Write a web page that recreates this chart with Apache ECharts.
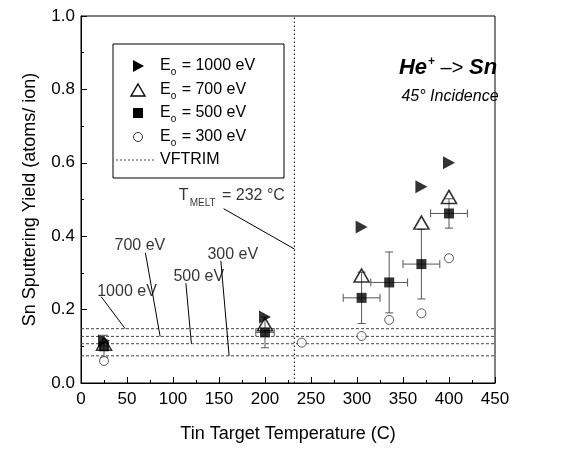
<!DOCTYPE html>
<html><head><meta charset="utf-8">
<script src="https://cdn.jsdelivr.net/npm/echarts@6/dist/echarts.min.js"></script>
<style>html,body{margin:0;padding:0;background:#fff}#c{width:569px;height:450px}</style>
</head><body><div id="c"></div>
<script>
// ---- data ----
const temps1000 = [25, 200, 305, 370, 400];
const yield1000 = [0.115, 0.18, 0.425, 0.535, 0.60];
const temps700 = [25, 200, 305, 370, 400];
const yield700 = [0.107, 0.16, 0.293, 0.437, 0.507];
const temps500 = [25, 200, 305, 335, 370, 400];
const yield500 = [0.10, 0.138, 0.232, 0.274, 0.324, 0.462];
const errT500 = [4, 10, 20, 20, 20, 20];
const errY500 = [0.03, 0.042, 0.07, 0.083, 0.095, 0.04];
const temps300 = [25, 240, 305, 335, 370, 400];
const yield300 = [0.06, 0.11, 0.128, 0.172, 0.19, 0.34];
const vftrimEnergies = ['1000 eV', '700 eV', '500 eV', '300 eV'];
const vftrimYield = [0.148, 0.127, 0.107, 0.074];
const meltTemp = 232;
const meltLabel = 'T_MELT = 232 °C';

// ---- annotation layout (data coordinates) ----
const energyLabelAt = [[50, 0.25], [64, 0.375], [128, 0.29], [165, 0.35]];
const energyArrowFrom = [[22, 0.235], [70, 0.355], [114, 0.272], [152, 0.333]];
const energyArrowToT = [48, 86, 120, 161];
const meltLabelAt = [164, 0.51];
const meltArrowFrom = [155, 0.475];
const meltArrowToY = 0.365;

const chart = echarts.init(document.getElementById('c'), null, {renderer: 'canvas'});
const FONT = 'Liberation Sans, Arial, sans-serif';

const series = [];
// VFTRIM lines
vftrimYield.forEach((v, i) => {
  series.push({
    type: 'line', name: 'VFTRIM ' + vftrimEnergies[i], data: [[0, v], [450, v]],
    symbol: 'none', silent: true, z: 1,
    lineStyle: {color: '#444', width: 1, type: [3, 2]}
  });
});
// melt line
series.push({
  type: 'line', data: [[meltTemp, 0], [meltTemp, 1]], symbol: 'none', silent: true, z: 1,
  lineStyle: {color: '#222', width: 1.2, type: [1.5, 2.5]}
});
// error bars
series.push({
  type: 'custom', z: 2, silent: true,
  data: temps500.map((t, i) => [t, yield500[i], errT500[i], errY500[i]]),
  renderItem(params, api) {
    const x = api.value(0), y = api.value(1), dx = api.value(2), dy = api.value(3);
    const l = api.coord([x - dx, y]), r = api.coord([x + dx, y]);
    const t = api.coord([x, y + dy]), b = api.coord([x, y - dy]);
    const cap = 4, st = {stroke: '#555', lineWidth: 1};
    const ln = (x1, y1, x2, y2) => ({type: 'line', shape: {x1, y1, x2, y2}, style: st});
    return {type: 'group', children: [
      ln(l[0], l[1], r[0], r[1]), ln(t[0], t[1], b[0], b[1]),
      ln(l[0], l[1] - cap, l[0], l[1] + cap), ln(r[0], r[1] - cap, r[0], r[1] + cap),
      ln(t[0] - cap, t[1], t[0] + cap, t[1]), ln(b[0] - cap, b[1], b[0] + cap, b[1])
    ]};
  }
});
// markers
series.push({
  type: 'scatter', name: '300 eV', z: 3, symbol: 'circle', symbolSize: 9,
  data: temps300.map((t, i) => [t, yield300[i]]),
  itemStyle: {color: '#fff', borderColor: '#333', borderWidth: 1}
});
series.push({
  type: 'scatter', name: '500 eV', z: 4, symbol: 'rect', symbolSize: 10,
  data: temps500.map((t, i) => [t, yield500[i]]),
  itemStyle: {color: '#000'}
});
series.push({
  type: 'scatter', name: '700 eV', z: 5, symbol: 'triangle', symbolSize: [15, 13],
  data: temps700.map((t, i) => [t, yield700[i]]),
  itemStyle: {color: 'rgba(255,255,255,0)', borderColor: '#000', borderWidth: 1.6}
});
series.push({
  type: 'scatter', name: '1000 eV', z: 6, symbol: 'triangle', symbolSize: [13, 12], symbolRotate: -90,
  data: temps1000.map((t, i) => [t, yield1000[i]]),
  itemStyle: {color: '#000'}
});
// annotations: text + arrows
const annData = vftrimEnergies.map((e, i) => ({value: energyLabelAt[i], label: {formatter: e}}));
annData.push({value: meltLabelAt, label: {formatter: '{n|T}{s|MELT}{n| = 232 °C}'}});
const arrowLines = energyArrowFrom.map((f, i) => [{coord: f}, {coord: [energyArrowToT[i], vftrimYield[i]]}]);
arrowLines.push([{coord: meltArrowFrom}, {coord: [meltTemp, meltArrowToY]}]);
series.push({
  type: 'scatter', z: 7, silent: true, symbolSize: 0, data: annData,
  label: {show: true, position: 'inside', color: '#000', fontFamily: FONT, fontSize: 16,
    rich: {n: {fontSize: 16, fontFamily: FONT, color: '#000', lineHeight: 24, verticalAlign: 'middle'},
           s: {fontSize: 10, fontFamily: FONT, color: '#000', lineHeight: 24, verticalAlign: 'bottom', padding: [0, 2, 0, 1]}}},
  markLine: {silent: true, symbol: ['none', 'arrow'], symbolSize: [0, 8], animation: false,
    label: {show: false}, lineStyle: {color: '#000', width: 1, type: 'solid'}, data: arrowLines}
});

// legend (drawn as a graphic layout)
const LX = 113, LY = 44, rows = [66, 90, 113, 137, 160], sx = 138, tx = 160;
const legTexts = ['1000', '700', '500', '300'];
const legRich = {e: {fontSize: 16, fontFamily: FONT, lineHeight: 22, verticalAlign: 'middle'},
  o: {fontSize: 10, fontFamily: FONT, lineHeight: 22, verticalAlign: 'bottom', padding: [0, 1, 0, 0]}};
const graphics = [
  {type: 'rect', shape: {x: LX, y: LY, width: 171, height: 134}, style: {fill: 'none', stroke: '#000', lineWidth: 1}, z: 10},
  {type: 'polygon', shape: {points: [[sx - 5, rows[0] - 6], [sx + 6, rows[0]], [sx - 5, rows[0] + 6]]}, style: {fill: '#000'}, z: 10},
  {type: 'polygon', shape: {points: [[sx, rows[1] - 6], [sx + 7, rows[1] + 6], [sx - 7, rows[1] + 6]]}, style: {fill: '#fff', stroke: '#000', lineWidth: 1.4}, z: 10},
  {type: 'rect', shape: {x: sx - 5, y: rows[2] - 5, width: 10, height: 10}, style: {fill: '#000'}, z: 10},
  {type: 'circle', shape: {cx: sx, cy: rows[3], r: 4.5}, style: {fill: '#fff', stroke: '#333', lineWidth: 1}, z: 10},
  {type: 'line', shape: {x1: LX + 3, y1: rows[4], x2: tx - 4, y2: rows[4]}, style: {stroke: '#444', lineWidth: 1, lineDash: [2, 2]}, z: 10},
  {type: 'text', x: tx, y: rows[4], style: {text: 'VFTRIM', fontSize: 16, fontFamily: FONT, fill: '#000', verticalAlign: 'middle'}, z: 10},
  {type: 'text', x: 448, y: 68, style: {text: '{b|He}{sup|+}{m| –> }{b|Sn}', align: 'center', verticalAlign: 'middle',
    rich: {b: {fontSize: 22, fontWeight: 'bold', fontStyle: 'italic', fontFamily: FONT, lineHeight: 28, verticalAlign: 'middle'},
           sup: {fontSize: 12, fontWeight: 'bold', fontFamily: FONT, lineHeight: 28, verticalAlign: 'top', padding: [2, 0, 0, 1]},
           m: {fontSize: 20, fontFamily: FONT, lineHeight: 28, verticalAlign: 'middle'}}}, z: 10},
  {type: 'text', x: 450, y: 97, style: {text: '45° Incidence', align: 'center', verticalAlign: 'middle', fontSize: 16, fontStyle: 'italic', fontFamily: FONT, fill: '#000'}, z: 10}
];
legTexts.forEach((e, i) => {
  graphics.push({type: 'text', x: tx, y: rows[i], z: 10,
    style: {text: '{e|E}{o|o}{e| = ' + e + ' eV}', verticalAlign: 'middle', rich: legRich}});
});

chart.setOption({
  animation: false,
  backgroundColor: '#fff',
  grid: {left: 81, right: 74, top: 16, bottom: 67, show: true, borderColor: '#000', borderWidth: 1, backgroundColor: 'transparent'},
  xAxis: {
    type: 'value', min: 0, max: 450, interval: 50,
    name: 'Tin Target Temperature (C)', nameLocation: 'middle', nameGap: 42,
    nameTextStyle: {fontSize: 18, fontFamily: FONT, color: '#000'},
    axisLine: {lineStyle: {color: '#000', width: 1}},
    axisTick: {inside: true, length: 6, lineStyle: {color: '#000'}},
    minorTick: {show: true, splitNumber: 2, length: 3, lineStyle: {color: '#000'}},
    splitLine: {show: false},
    axisLabel: {fontSize: 17, fontFamily: FONT, color: '#000', margin: 8}
  },
  yAxis: {
    type: 'value', min: 0, max: 1, interval: 0.2,
    name: 'Sn Sputtering Yield (atoms/ ion)', nameLocation: 'middle', nameGap: 42,
    nameTextStyle: {fontSize: 18, fontFamily: FONT, color: '#000'},
    axisLine: {show: true, lineStyle: {color: '#000', width: 1}},
    axisTick: {show: true, inside: true, length: 6, lineStyle: {color: '#000'}},
    minorTick: {show: true, splitNumber: 2, length: 3, lineStyle: {color: '#000'}},
    splitLine: {show: false},
    axisLabel: {fontSize: 17, fontFamily: FONT, color: '#000', margin: 6, formatter: v => v.toFixed(1)}
  },
  series: series,
  graphic: graphics
});
</script></body></html>
